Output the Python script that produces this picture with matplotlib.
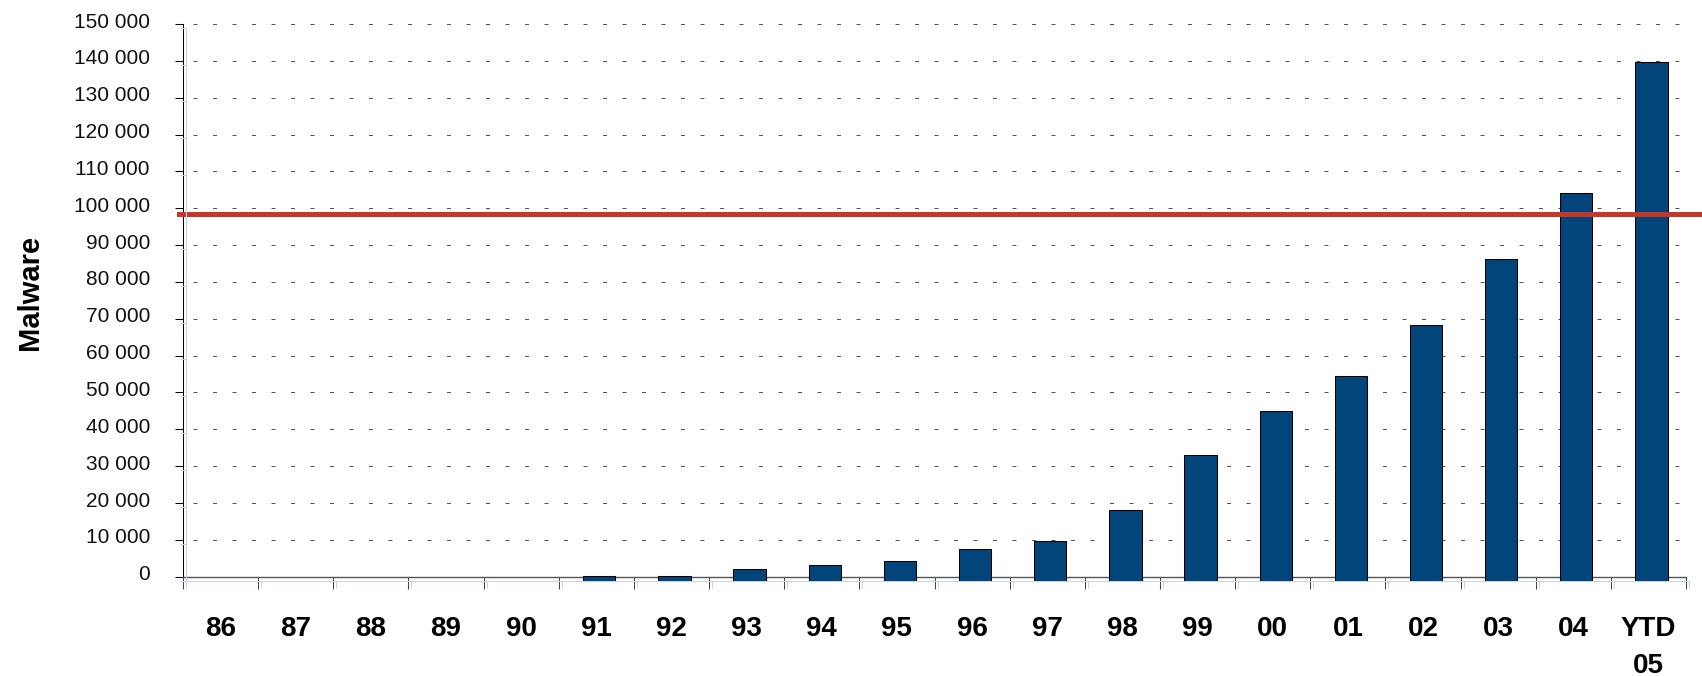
import matplotlib
matplotlib.use('Agg')
import matplotlib.pyplot as plt
import numpy as np
from matplotlib.transforms import ScaledTranslation

plt.rcParams['font.family'] = ['Liberation Sans', 'DejaVu Sans']

# yearly malware counts
years = ['86', '87', '88', '89', '90', '91', '92', '93', '94', '95',
         '96', '97', '98', '99', '00', '01', '02', '03', '04', 'YTD\n05']
malware = [0, 0, 0, 0, 0, 1100, 1100, 3200, 4300, 5400,
           8500, 10700, 19100, 34100, 45900, 55400, 69300, 87300, 105300, 140600]
y_ticks = list(range(0, 150001, 10000))
y_labels = [f'{v:,}'.replace(',', ' ') for v in y_ticks]
threshold = 99500

W, H = 1702, 676
fig = plt.figure(figsize=(W / 100, H / 100), dpi=100)

# main frame: ticks, labels and dashed grid
ax = fig.add_axes([183 / W, (H - 576.7) / H, 1503 / W, 552.7 / H])
# second frame carrying the bars, drawn a few pixels off the first one
ax2 = fig.add_axes([186 / W, (H - 580.5) / H, 1503 / W, 552.7 / H])

x = np.arange(len(years))
vals = np.array(malware, dtype=float)

for a in (ax, ax2):
    a.set_xlim(-0.5, len(years) - 0.5)
    a.set_ylim(0, 150000)
    a.spines['top'].set_visible(False)
    a.spines['right'].set_visible(False)

# main axes
ax.set_yticks(y_ticks)
ax.set_yticklabels(y_labels, fontsize=15, color='#111111')
ax.tick_params(axis='y', direction='out', length=5.8, width=0.75, pad=18, color='black')
shift = ScaledTranslation(0, 4 / 100, fig.dpi_scale_trans)
for lab in ax.get_yticklabels():
    lab.set_transform(lab.get_transform() + shift)

ax.set_xticks(x)
ax.set_xticklabels(years, fontsize=20, fontweight='bold', linespacing=1.55)
ax.tick_params(axis='x', which='major', length=0, pad=28)
ax.set_xticks(np.arange(-0.5, len(years), 1), minor=True)
ax.tick_params(axis='x', which='minor', direction='out', length=8.4, width=0.75, color='#444444')

ax.spines['left'].set_color('black')
ax.spines['left'].set_linewidth(0.75)
ax.spines['bottom'].set_color('#555555')
ax.spines['bottom'].set_linewidth(1.0)
ax.yaxis.grid(True, color='#555555', linewidth=0.72, linestyle=(9.5, (4, 15.5)))
ax.set_axisbelow(True)

# bar axes
ax2.patch.set_visible(False)
blue = '#c3d4e6'
ax2.spines['left'].set_color(blue)
ax2.spines['bottom'].set_color(blue)
ax2.spines['left'].set_linewidth(0.75)
ax2.spines['bottom'].set_linewidth(0.75)
ax2.set_yticks(y_ticks)
ax2.set_yticklabels([])
ax2.tick_params(axis='y', direction='out', length=4, width=0.75, color=blue)
ax2.set_xticks([])
ax2.set_xticks(np.arange(-0.5, len(years), 1), minor=True)
ax2.tick_params(axis='x', which='minor', direction='out', length=5, width=0.75, color=blue)
ax2.tick_params(axis='x', which='both', labelbottom=False)

mask = vals > 0
ax2.bar(x[mask], vals[mask], width=0.43, color='#02457a', edgecolor='black', linewidth=0.75)

ax2.axhline(threshold, xmin=(179 - 186) / 1503, xmax=(W - 186) / 1503,
            color='#c0392b', linewidth=3.6, clip_on=False)

fig.text(30 / W, 1 - 292 / H, 'Malware', rotation=90, fontsize=21,
         fontweight='bold', ha='center', va='center')

fig.savefig('out.png', dpi=100)
